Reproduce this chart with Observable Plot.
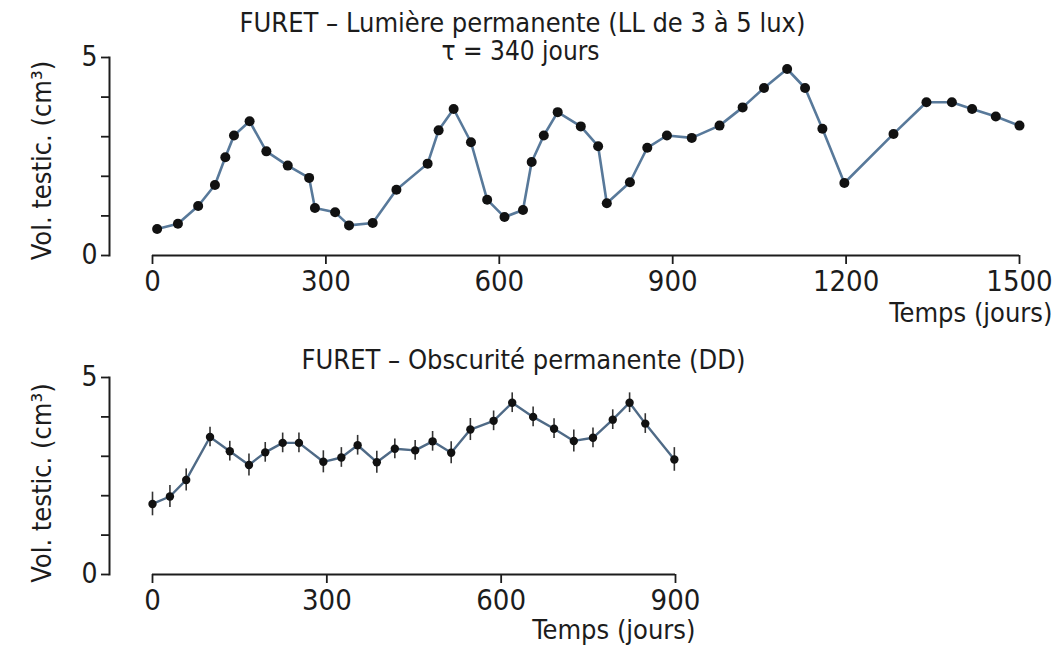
<!DOCTYPE html>
<html><head><meta charset="utf-8">
<script src="https://cdn.jsdelivr.net/npm/d3@7"></script>
<script src="https://cdn.jsdelivr.net/npm/@observablehq/plot@0.6"></script>
<style>
body{margin:0;background:#fff;}
#wrap{position:relative;width:1061px;height:649px;overflow:hidden;background:#fff;}
#wrap svg{position:absolute;left:0;}
</style></head><body><div id="wrap"></div>
<script>
// ---- data ----
const llTitle = "FURET – Lumière permanente (LL de 3 à 5 lux)";
const llSubtitle = "τ = 340 jours";
const ddTitle = "FURET – Obscurité permanente (DD)";
const yLabel = "Vol. testic. (cm³)";
const xLabel = "Temps (jours)";

const llDays = [8,44,79,108,126,141,168,197,234,271,281,316,340,381,422,476,495,521,551,579,609,641,656,677,701,741,771,786,826,856,890,933,981,1021,1058,1098,1129,1159,1197,1282,1339,1383,1418,1459,1500];
const llVol  = [0.67,0.80,1.25,1.78,2.48,3.03,3.39,2.63,2.27,1.96,1.20,1.09,0.76,0.82,1.66,2.32,3.16,3.70,2.86,1.41,0.97,1.15,2.36,3.03,3.62,3.26,2.76,1.32,1.85,2.72,3.03,2.97,3.28,3.74,4.23,4.71,4.23,3.20,1.83,3.07,3.87,3.87,3.70,3.51,3.28];

const ddDays = [0,30,58,99,133,166,194,224,252,294,325,353,386,417,452,482,514,547,587,619,655,691,725,758,792,821,848,898];
const ddVol  = [1.79,1.98,2.40,3.49,3.13,2.78,3.10,3.34,3.34,2.86,2.97,3.28,2.85,3.19,3.15,3.38,3.09,3.68,3.90,4.36,4.00,3.70,3.39,3.47,3.93,4.36,3.83,2.92];
const ddErr  = [0.30,0.28,0.28,0.25,0.25,0.28,0.25,0.25,0.25,0.28,0.25,0.25,0.28,0.25,0.25,0.25,0.28,0.28,0.25,0.25,0.25,0.25,0.28,0.25,0.25,0.25,0.25,0.30];

const yTicks = [0,1,2,3,4,5];
const yLabelled = [0,5];
const llXTicks = [0,300,600,900,1200,1500];
const ddXTicks = [0,300,600,900];

// ---- style ----
const FONT = '"Liberation Sans Narrow","Arial Narrow","DejaVu Sans Condensed",sans-serif';
const INK = "#1c1c1c";
const LINE_LL = "#58799a";
const LINE_DD = "#4f6a86";

const llData = llDays.map((d,i)=>({day:d, vol:llVol[i]}));
const ddData = ddDays.map((d,i)=>({day:d, vol:ddVol[i], err:ddErr[i]}));

function yAxisMarks() {
  return [
    Plot.frame({anchor:"left", stroke:INK, strokeWidth:2}),
    Plot.axisY({ticks:yTicks, tickFormat:d => yLabelled.includes(d) ? String(d) : "", tickSize:8, tickPadding:4, strokeWidth:1.8, fontSize:28, label:null, fill:INK, stroke:INK})
  ];
}
const fmtX = d3.format("d");

const wrap = document.getElementById("wrap");

// top chart
const chartLL = Plot.plot({
  width:1061, height:340,
  marginTop:57, marginBottom:85, marginLeft:109, marginRight:42,
  style:{fontFamily:FONT, fontSize:"27px", color:INK, background:"transparent"},
  x:{domain:[d3.min(llXTicks), d3.max(llXTicks)], insetLeft:43},
  y:{domain:[d3.min(yTicks), d3.max(yTicks)]},
  marks:[
    ...yAxisMarks(),
    Plot.ruleY([0], {x1:() => d3.min(llXTicks), x2:() => d3.max(llXTicks), stroke:INK, strokeWidth:2}),
    Plot.axisX({ticks:llXTicks, tickFormat:fmtX, tickSize:9, tickPadding:6, strokeWidth:1.8, fontSize:29, label:null, fill:INK, stroke:INK}),
    Plot.line(llData, {x:"day", y:"vol", stroke:LINE_LL, strokeWidth:2.6}),
    Plot.dot(llData, {x:"day", y:"vol", r:5, fill:"#111", stroke:"none"}),
    Plot.text([llTitle], {frameAnchor:"top", lineAnchor:"top", dx:-42, dy:-45, fontSize:27, fill:INK}),
    Plot.text([llSubtitle], {frameAnchor:"top", lineAnchor:"top", dx:-44, dy:-16, fontSize:26, fill:INK}),
    Plot.text([xLabel], {frameAnchor:"bottom-right", lineAnchor:"bottom", textAnchor:"end", dx:33, dy:66, fontSize:27, fill:INK}),
    Plot.text([yLabel], {frameAnchor:"left", textAnchor:"middle", lineAnchor:"middle", rotate:-90, dx:-67, dy:4, fontSize:27, fill:INK})
  ]
});
chartLL.style.top = "0px";
wrap.appendChild(chartLL);

// bottom chart
const chartDD = Plot.plot({
  width:1061, height:309,
  marginTop:37, marginBottom:75, marginLeft:109, marginRight:386,
  style:{fontFamily:FONT, fontSize:"27px", color:INK, background:"transparent"},
  x:{domain:[d3.min(ddXTicks), d3.max(ddXTicks)], insetLeft:43},
  y:{domain:[d3.min(yTicks), d3.max(yTicks)]},
  marks:[
    ...yAxisMarks(),
    Plot.ruleY([0], {x1:() => d3.min(ddXTicks), x2:() => d3.max(ddXTicks), stroke:INK, strokeWidth:2}),
    Plot.axisX({ticks:ddXTicks, tickFormat:fmtX, tickSize:9, tickPadding:6, strokeWidth:1.8, fontSize:29, label:null, fill:INK, stroke:INK}),
    Plot.line(ddData, {x:"day", y:"vol", stroke:LINE_DD, strokeWidth:2.4}),
    Plot.ruleX(ddData, {x:"day", y1:d => d.vol - d.err, y2:d => d.vol + d.err, stroke:"#333", strokeWidth:1.6}),
    Plot.dot(ddData, {x:"day", y:"vol", r:4.2, fill:"#111", stroke:"none"}),
    Plot.text([ddTitle], {frameAnchor:"top", lineAnchor:"top", dx:131, dy:-28, fontSize:27, fill:INK}),
    Plot.text([xLabel], {frameAnchor:"bottom-right", lineAnchor:"bottom", textAnchor:"end", dx:20, dy:64, fontSize:27, fill:INK}),
    Plot.text([yLabel], {frameAnchor:"left", textAnchor:"middle", lineAnchor:"middle", rotate:-90, dx:-67, dy:7, fontSize:27, fill:INK})
  ]
});
chartDD.style.top = "340px";
wrap.appendChild(chartDD);
</script>
</body></html>
